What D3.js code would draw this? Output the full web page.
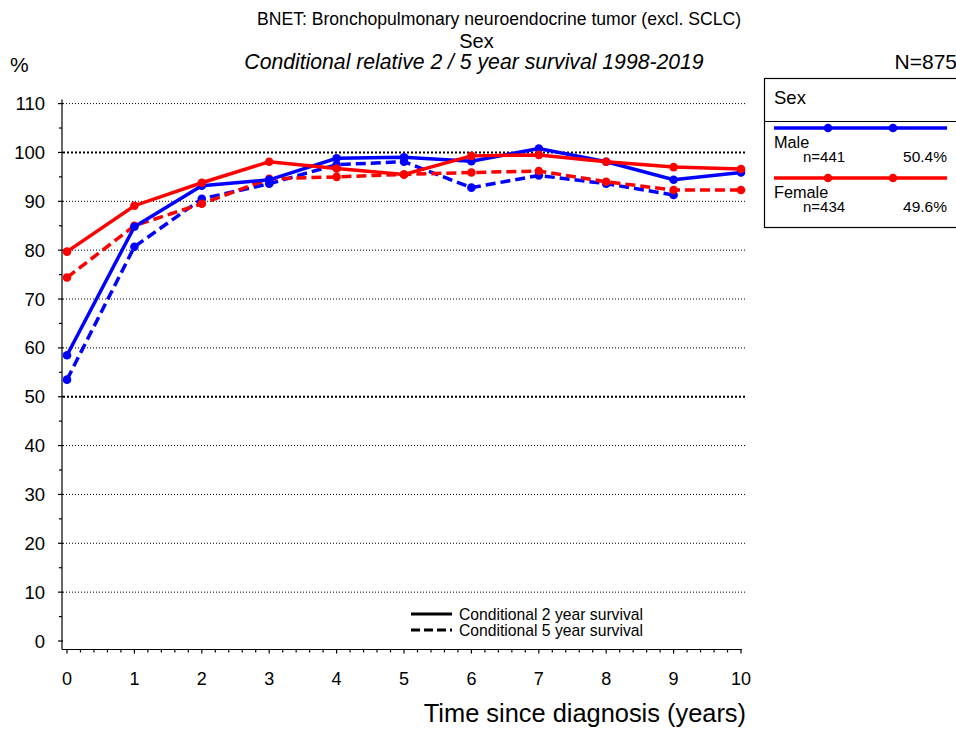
<!DOCTYPE html>
<html><head><meta charset="utf-8">
<script src="https://cdn.jsdelivr.net/npm/d3@7"></script>
<style>
body{margin:0;background:#fff;}
text{font-family:"Liberation Sans",Arial,sans-serif;fill:#000;}
</style></head>
<body>
<svg id="chart" width="956" height="733"></svg>
<script>
const years = [0,1,2,3,4,5,6,7,8,9,10];
const male2 = [58.5,84.8,93.2,94.4,98.8,99.0,98.2,100.8,98.1,94.4,95.9];
const male5 = [53.5,80.7,90.5,93.6,97.5,98.1,92.8,95.3,93.6,91.3,null];
const female2 = [79.7,89.1,93.8,98.1,96.7,95.5,99.3,99.5,98.1,97.0,96.6];
const female5 = [74.4,85.0,89.5,94.6,95.0,95.5,95.9,96.2,94.0,92.3,92.3];
const yTicks = [0,10,20,30,40,50,60,70,80,90,100,110];
const groups = ["Male","Female"];
const groupN = ["n=441","n=434"];
const groupPct = ["50.4%","49.6%"];
const colors = ["#0000ff","#ff0000"];

const svg = d3.select("#chart");
const x = d3.scaleLinear().domain([0,10]).range([67,741]);
const y = d3.scaleLinear().domain([0,110]).range([641,103.6]);

// titles
svg.append("text").attr("x",499).attr("y",25).attr("text-anchor","middle").attr("font-size",17.6)
  .text("BNET: Bronchopulmonary neuroendocrine tumor (excl. SCLC)");
svg.append("text").attr("x",476.5).attr("y",47.5).attr("text-anchor","middle").attr("font-size",20)
  .text("Sex");
svg.append("text").attr("x",474).attr("y",68.5).attr("text-anchor","middle").attr("font-size",21.2).attr("font-style","italic")
  .text("Conditional relative 2 / 5 year survival 1998-2019");
svg.append("text").attr("x",10).attr("y",72).attr("font-size",21).text("%");
svg.append("text").attr("x",957).attr("y",69).attr("text-anchor","end").attr("font-size",21).text("N=875");

// gridlines
svg.append("g").selectAll("line").data(yTicks.filter(d=>d>0)).join("line")
  .attr("x1",63).attr("x2",746).attr("y1",d=>y(d)).attr("y2",d=>y(d))
  .attr("stroke","#000")
  .attr("stroke-width",d=>(d===50||d===100)?2:1)
  .attr("stroke-dasharray",d=>(d===50||d===100)?"2,2":"1,2");

// y axis
const yAxisG = svg.append("g").attr("transform","translate(62,0)");
yAxisG.append("line").attr("x1",0).attr("x2",0).attr("y1",y(0)+8.5).attr("y2",y(110)-4).attr("stroke","#000").attr("stroke-width",1.2);
yAxisG.selectAll(".maj").data(yTicks).join("line").attr("class","maj")
  .attr("x1",-4).attr("x2",1).attr("y1",d=>y(d)).attr("y2",d=>y(d)).attr("stroke","#000").attr("stroke-width",1.2);
yAxisG.selectAll(".min").data(d3.range(5,110,10)).join("line").attr("class","min")
  .attr("x1",-3).attr("x2",0).attr("y1",d=>y(d)).attr("y2",d=>y(d)).attr("stroke","#000").attr("stroke-width",1.2);
yAxisG.selectAll("text").data(yTicks).join("text")
  .attr("x",-17).attr("y",d=>y(d)+6.5).attr("text-anchor","end").attr("font-size",18.5).text(d=>d);

// x axis
const xAxisG = svg.append("g").attr("transform","translate(0,649.5)");
xAxisG.append("line").attr("x1",62).attr("x2",742).attr("y1",0).attr("y2",0).attr("stroke","#000").attr("stroke-width",1.2);
xAxisG.selectAll(".min").data(d3.range(0,50.5,1).map(d=>d/5)).join("line").attr("class","min")
  .attr("x1",d=>x(d)).attr("x2",d=>x(d)).attr("y1",0).attr("y2",d=>Number.isInteger(d)?4:3)
  .attr("stroke","#000").attr("stroke-width",1.2);
xAxisG.selectAll("text").data(years).join("text")
  .attr("x",d=>x(d)).attr("y",35).attr("text-anchor","middle").attr("font-size",18).text(d=>d);
svg.append("text").attr("x",746).attr("y",722).attr("text-anchor","end").attr("font-size",25.4)
  .text("Time since diagnosis (years)");

// series
const series = [
  {vals:male2, color:colors[0], dash:null},
  {vals:male5, color:colors[0], dash:"10,5"},
  {vals:female2, color:colors[1], dash:null},
  {vals:female5, color:colors[1], dash:"10,5"}
];
const line = d3.line().defined(d=>d[1]!=null).x(d=>x(d[0])).y(d=>y(d[1]));
const draw = s => {
  const pts = years.map((yr,i)=>[yr,s.vals[i]]);
  svg.append("path").datum(pts).attr("d",line).attr("fill","none")
    .attr("stroke",s.color).attr("stroke-width",3.5).attr("stroke-dasharray",s.dash);
  svg.append("g").selectAll("circle").data(pts.filter(p=>p[1]!=null)).join("circle")
    .attr("cx",p=>x(p[0])).attr("cy",p=>y(p[1])).attr("r",4.3).attr("fill",s.color);
};
[series[1],series[3],series[0],series[2]].forEach(draw);

// bottom legend
const bl = svg.append("g");
[["Conditional 2 year survival",null,614],["Conditional 5 year survival","9,4",630]].forEach(([t,dash,yy])=>{
  bl.append("line").attr("x1",411).attr("x2",452).attr("y1",yy).attr("y2",yy)
    .attr("stroke","#000").attr("stroke-width",3).attr("stroke-dasharray",dash);
  bl.append("text").attr("x",459).attr("y",yy+5.5).attr("font-size",15.7).text(t);
});

// right legend
const lg = svg.append("g");
lg.append("rect").attr("x",764.5).attr("y",78.5).attr("width",210).attr("height",149)
  .attr("fill","none").attr("stroke","#000").attr("stroke-width",1.2);
lg.append("line").attr("x1",764.5).attr("x2",960).attr("y1",121.5).attr("y2",121.5).attr("stroke","#000").attr("stroke-width",1.2);
lg.append("text").attr("x",774).attr("y",104).attr("font-size",18.5).text("Sex");
groups.forEach((g,i)=>{
  const ly = 128 + i*50;
  lg.append("line").attr("x1",774).attr("x2",947).attr("y1",ly).attr("y2",ly).attr("stroke",colors[i]).attr("stroke-width",3.5);
  [828,893].forEach(cx=>lg.append("circle").attr("cx",cx).attr("cy",ly).attr("r",4.3).attr("fill",colors[i]));
  lg.append("text").attr("x",774).attr("y",ly+19.5).attr("font-size",16.3).text(g);
  lg.append("text").attr("x",803).attr("y",ly+34).attr("font-size",15).text(groupN[i]);
  lg.append("text").attr("x",947).attr("y",ly+34).attr("text-anchor","end").attr("font-size",15.5).text(groupPct[i]);
});
</script>
</body></html>
